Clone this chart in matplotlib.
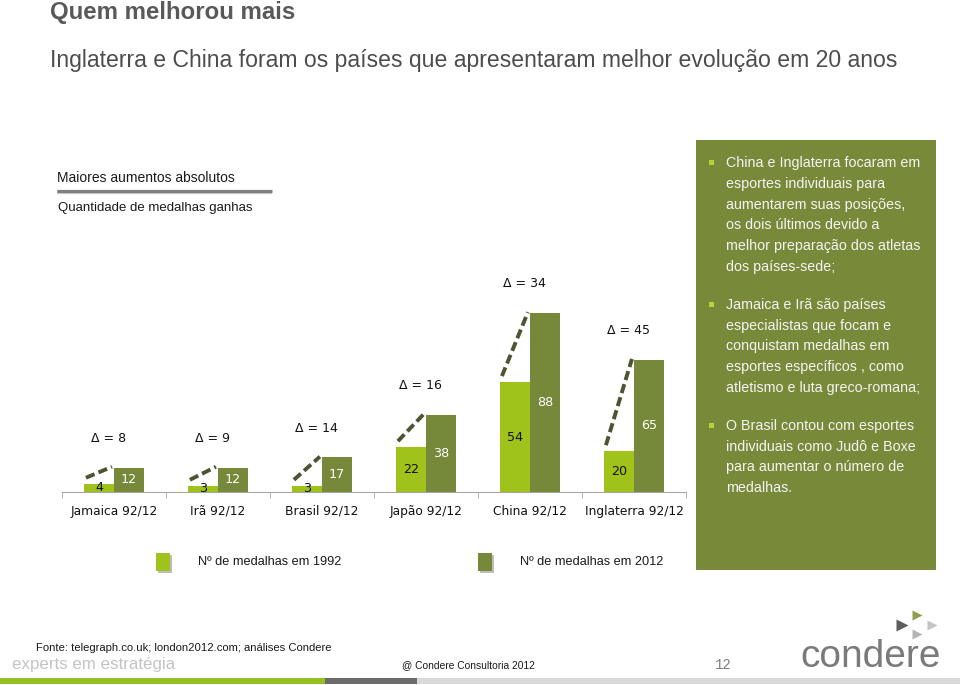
import matplotlib.pyplot as plt
from matplotlib.patches import Rectangle

# data
countries = ['Jamaica', 'Irã', 'Brasil', 'Japão', 'China', 'Inglaterra']
medals_1992 = [4, 3, 3, 22, 54, 20]
medals_2012 = [12, 12, 17, 38, 88, 65]
tick_labels = [f'{c} 92/12' for c in countries]

light_green = '#9fc31b'
dark_green = '#76893a'
panel_green = '#788a39'
gray_text = '#595959'

panel_paragraphs = [
    ['China e Inglaterra focaram em', 'esportes individuais para',
     'aumentarem suas posições,', 'os dois últimos devido a',
     'melhor preparação dos atletas', 'dos países-sede;'],
    ['Jamaica e Irã são países', 'especialistas que focam e',
     'conquistam medalhas em', 'esportes específicos , como',
     'atletismo e luta greco-romana;'],
    ['O Brasil contou com esportes', 'individuais como Judô e Boxe',
     'para aumentar o número de', 'medalhas.'],
]

W, H = 960, 685
fig = plt.figure(figsize=(W / 100, H / 100), dpi=100)
fig.patch.set_facecolor('white')

# overlay in pixel coordinates for the slide decoration
ov = fig.add_axes([0, 0, 1, 1])
ov.set_xlim(0, W)
ov.set_ylim(H, 0)
ov.axis('off')

sans = 'Liberation Sans'
ov.text(50, 12, 'Quem melhorou mais', fontsize=17.3, fontweight='bold',
        color=gray_text, family=sans, va='center', ha='left')
ov.text(50, 60, 'Inglaterra e China foram os países que apresentaram melhor evolução em 20 anos',
        fontsize=16.6, color='#4d4d4d', family=sans, va='center', ha='left')

ov.text(57, 178, 'Maiores aumentos absolutos', fontsize=10, color='#1a1a1a',
        family=sans, va='center')
ov.plot([57, 272], [192, 192], color='#c8c8c8', lw=3, solid_capstyle='butt')
ov.plot([57, 272], [190.5, 190.5], color='#7f7f7f', lw=2.2, solid_capstyle='butt')
ov.text(58, 208, 'Quantidade de medalhas ganhas', fontsize=9.5, color='#1a1a1a',
        family=sans, va='center')

# right panel
ov.add_patch(Rectangle((696, 140), 240, 430, facecolor=panel_green, edgecolor='none'))
y = 163
for para in panel_paragraphs:
    ov.add_patch(Rectangle((709, y - 3), 5, 5, facecolor='#b5d334', edgecolor='none'))
    for line in para:
        ov.text(726, y, line, fontsize=10.3, color='#f4f4f4', family=sans, va='center')
        y += 20.8
    y += 17

# legend
for x0, col, lab in [(156, light_green, 'Nº de medalhas em 1992'),
                     (478, dark_green, 'Nº de medalhas em 2012')]:
    ov.add_patch(Rectangle((x0 + 1.5, 554.5), 14, 18, facecolor='#bdbdbd', edgecolor='none'))
    ov.add_patch(Rectangle((x0, 553), 14, 18, facecolor=col, edgecolor='none'))
    ov.text(x0 + 42, 562, lab, fontsize=9.2, color='#1a1a1a', family=sans, va='center')

# footer
ov.text(36, 648, 'Fonte: telegraph.co.uk; london2012.com; análises Condere', fontsize=8.1,
        color='#1a1a1a', family=sans, va='center')
ov.text(12, 665, 'experts em estratégia', fontsize=12.2, color='#c4c4c4', family=sans, va='center')
ov.text(402, 665, '@ Condere Consultoria 2012', fontsize=7.4, color='#1a1a1a', family=sans, va='center')
ov.text(715, 665, '12', fontsize=10, color='#7f7f7f', family='Liberation Mono', va='center')
ov.text(800, 667, 'condere', fontsize=28, color='#7a7a7a', family=sans, va='baseline')
ov.plot([917], [615], marker='>', ms=7, color='#8fa04d', mec='none')
ov.plot([902], [625], marker='>', ms=8, color='#5d5d5d', mec='none')
ov.plot([932], [625], marker='>', ms=7, color='#c4c4c4', mec='none')
ov.plot([917], [634], marker='>', ms=7, color='#b4b4b4', mec='none')
ov.add_patch(Rectangle((0, 678), W, 6, facecolor='#d9d9d9', edgecolor='none'))
ov.add_patch(Rectangle((0, 678), 325, 6, facecolor='#94c11f', edgecolor='none'))
ov.add_patch(Rectangle((325, 678), 92, 6, facecolor='#6b6b6b', edgecolor='none'))

# chart axes: baseline at y=492 px, 2.034 px per medal
top_px, base_px = 250, 492
ax = fig.add_axes([62 / W, (H - base_px) / H, 624 / W, (base_px - top_px) / H])
ax.patch.set_alpha(0)
ax.set_xlim(-0.5, len(countries) - 0.5)
ax.set_ylim(0, (base_px - top_px) / 2.034)

x = list(range(len(countries)))
bw = 0.288
b1 = ax.bar([i - bw / 2 for i in x], medals_1992, width=bw, color=light_green, zorder=2)
b2 = ax.bar([i + bw / 2 for i in x], medals_2012, width=bw, color=dark_green, zorder=2)
ax.bar_label(b1, label_type='center', fontsize=9.2, color='#111111', family='DejaVu Sans')
ax.bar_label(b2, label_type='center', fontsize=9.2, color='white', family='DejaVu Sans')

for i, (v1, v2) in enumerate(zip(medals_1992, medals_2012)):
    ax.plot([i - 0.27, i - 0.02], [v1 + 3, v2 + 0.4], color='#4c5431', lw=2.8,
            linestyle=(0, (2.4, 1.1)), solid_capstyle='butt', zorder=3)
    ax.annotate(f'Δ = {v2 - v1}', xy=(i, v2), xytext=(-4, 21), textcoords='offset points',
                ha='center', va='center', fontsize=9, color='#111111', family='DejaVu Sans')

for s in ['top', 'right', 'left']:
    ax.spines[s].set_visible(False)
ax.spines['bottom'].set_color('#a6a6a6')
ax.set_yticks([])
ax.set_xticks(x)
ax.set_xticklabels(tick_labels, fontsize=8.8, color='#111111', family='DejaVu Sans')
ax.tick_params(axis='x', which='major', length=0, pad=9)
ax.set_xticks([i - 0.5 for i in range(len(countries) + 1)], minor=True)
ax.tick_params(axis='x', which='minor', length=4, color='#a6a6a6')

fig.savefig('out.png', dpi=100)
plt.close(fig)
